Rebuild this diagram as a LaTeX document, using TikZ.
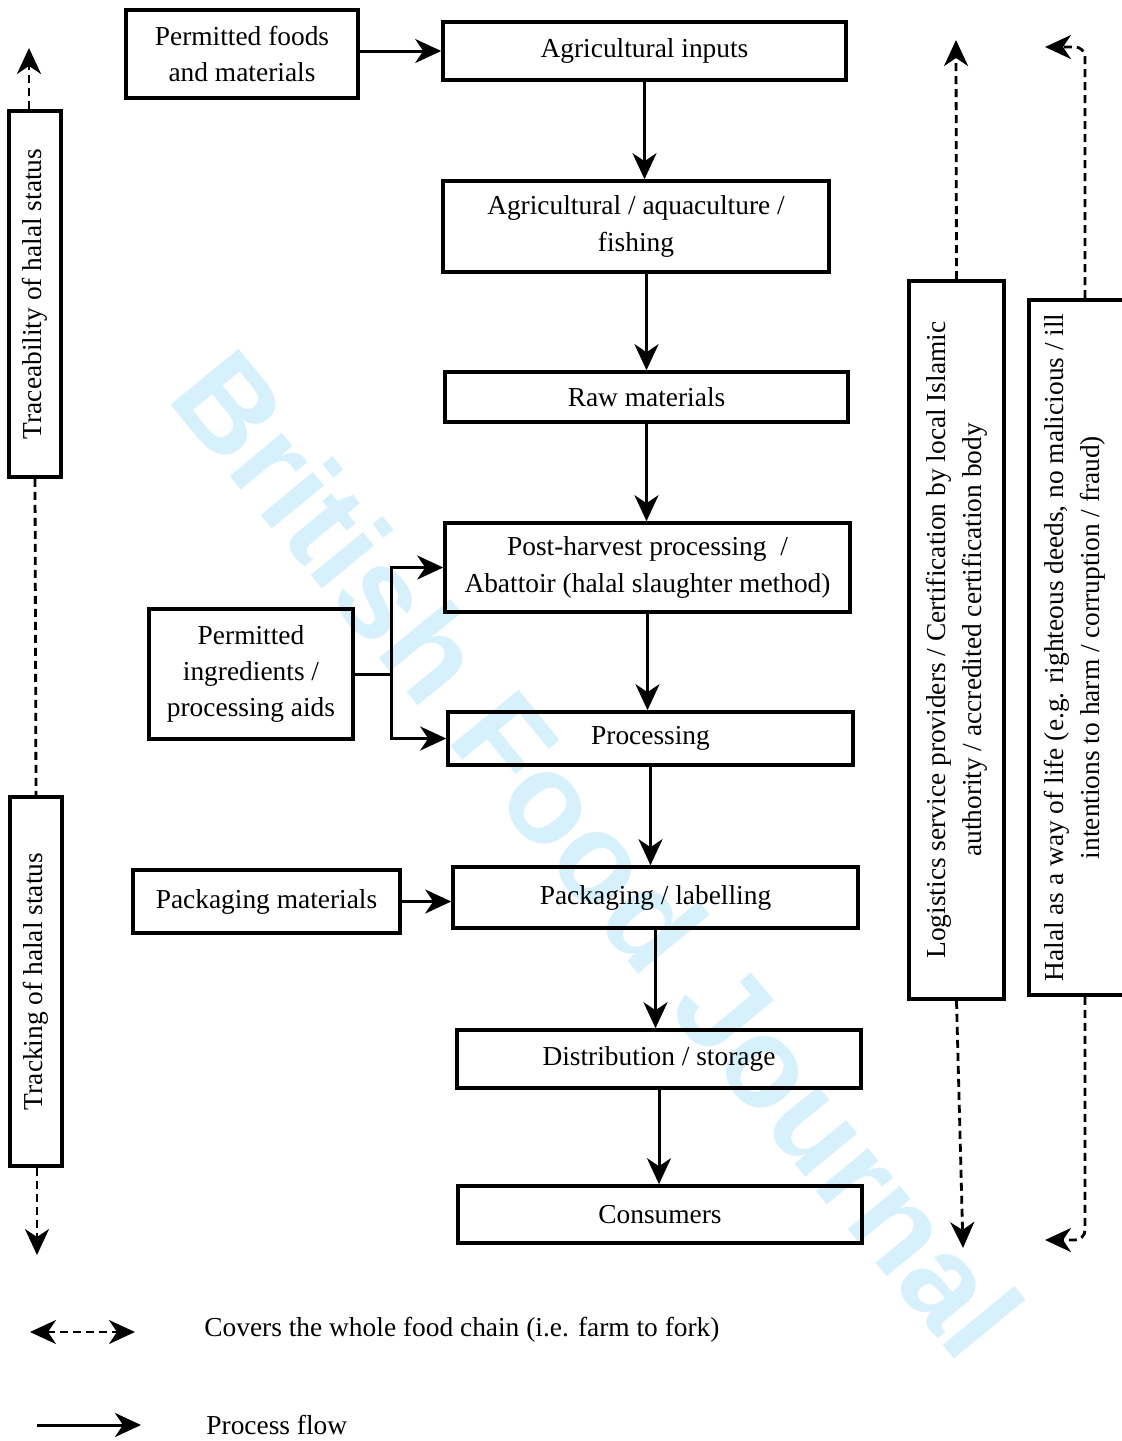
\documentclass[tikz,border=0pt]{standalone}
\usepackage{fontspec}
\setmainfont{Liberation Serif}
\setsansfont{Liberation Sans}
\usetikzlibrary{arrows.meta}
\usetikzlibrary{positioning}
\definecolor{markblue}{RGB}{214,240,252}

\tikzset{
  stage/.style={draw, line width=1.8pt, align=center, inner sep=2pt},
  sidebox/.style={stage, rotate=90},
  flow/.style={line width=1.5pt, -{Stealth[length=13pt,width=12pt,inset=4pt]}},
  cover/.style={line width=1.4pt, dash pattern=on 4pt off 2.5pt, -{Stealth[length=13pt,width=12pt,inset=4pt]}},
  dashline/.style={line width=1.4pt, dash pattern=on 4pt off 2.5pt},
}

\begin{document}
\begin{tikzpicture}[x=0.5pt, y=-0.5pt, every node/.style={font=\fontsize{13.7}{18.2}\selectfont}]
  \useasboundingbox (0,0) rectangle (1121,1441);
  %watermark
  \node[rotate=-50.6, text=markblue, font=\fontsize{64}{64}\selectfont\sffamily\bfseries] (mark) at (598,853) {British Food Journal};
  %main chain
  \node[stage, minimum width=116pt, minimum height=44pt] (foods) at (242,54) {Permitted foods\\and materials};
  \node[stage, minimum width=201.5pt, minimum height=29pt] (inputs) at (644.5,51) {Agricultural inputs};
  \node[stage, minimum width=193pt, minimum height=45.5pt] (agri) at (636,226.5) {Agricultural / aquaculture /\\fishing};
  \node[stage, minimum width=201.5pt, minimum height=25pt] (raw) at (646.5,397) {Raw materials};
  \node[stage, minimum width=202.5pt, minimum height=44.5pt] (post) at (647.5,567.5) {Post-harvest processing~ /\\Abattoir (halal slaughter method)};
  \node[stage, minimum width=202.5pt, minimum height=26.5pt] (proc) at (650.5,738.5) {Processing};
  \node[stage, minimum width=102pt, minimum height=65pt] (ingr) at (251,674) {Permitted\\ingredients /\\processing aids};
  \node[stage, minimum width=202.5pt, minimum height=30.5pt] (pack) at (655.5,897.5) {Packaging / labelling};
  \node[stage, minimum width=133.5pt, minimum height=31.5pt] (packmat) at (266.5,901.5) {Packaging materials};
  \node[stage, minimum width=202pt, minimum height=29pt] (dist) at (659,1059) {Distribution / storage};
  \node[stage, minimum width=202pt, minimum height=28.5pt] (cons) at (660,1214.5) {Consumers};
  %side boxes (rotated: east is the top)
  \node[sidebox, minimum width=183pt, minimum height=26pt] (trace) at (35,294) {Traceability of halal status};
  \node[sidebox, minimum width=184.5pt, minimum height=26pt] (track) at (36,981.5) {Tracking of halal status};
  \node[sidebox, minimum width=359pt, minimum height=47.5pt] (logistics) at (956.5,640) {Logistics service providers / Certification by local Islamic\\authority / accredited certification body};
  \node[sidebox, minimum width=347.5pt, minimum height=56pt] (halalbox) at (1085,647.5) {};
  \node[rotate=90, align=center] (halal) at (1075,647.5) {Halal as a way of life (e.g. righteous deeds, no malicious / ill\\intentions to harm / corruption / fraud)};
  %process flow
  \draw[flow] (inputs.west -| foods.east) -- (inputs.west);
  \draw[flow] (inputs.south) -- (inputs.south |- agri.north);
  \draw[flow] (raw.north |- agri.south) -- (raw.north);
  \draw[flow] (raw.south) -- (raw.south |- post.north);
  \draw[flow] (post.south) -- (post.south |- proc.north);
  \draw[flow] (proc.south) -- (proc.south |- pack.north);
  \draw[flow] (pack.south) -- (pack.south |- dist.north);
  \draw[flow] (dist.south) -- (dist.south |- cons.north);
  \draw[line width=1.5pt] (ingr.east) -- ++(37,0) coordinate (split);
  \draw[flow] (split) |- (post.west);
  \draw[flow] (split) |- (proc.west);
  \draw[flow] (packmat.east) -- (packmat.east -| pack.west);
  %whole chain
  \coordinate (tracetop) at (29,48);
  \coordinate (trackbot) at (37,1255);
  \coordinate (logtop) at (956,40);
  \coordinate (logbot) at (963,1248);
  \coordinate (haltop) at (1045,47);
  \coordinate (halbot) at (1045,1240);
  \draw[cover] (tracetop |- trace.east) -- (tracetop);
  \draw[dashline] (trace.west) -- (track.east);
  \draw[cover] (trackbot |- track.west) -- (trackbot);
  \draw[cover] (logistics.east) -- (logtop);
  \draw[cover] (logistics.west) -- (logbot);
  \draw[cover, rounded corners=5pt] (halalbox.east) |- (haltop);
  \draw[cover, rounded corners=5pt] (halalbox.west) |- (halbot);
  %legend
  \coordinate (covl) at (30,1332);
  \coordinate (covr) at (135,1332);
  \coordinate (flowl) at (37,1425);
  \coordinate (flowr) at (141,1425);
  \draw[cover, {Stealth[length=13pt,width=12pt,inset=4pt]}-{Stealth[length=13pt,width=12pt,inset=4pt]}] (covl) -- (covr);
  \draw[flow] (flowl) -- (flowr);
  \node[anchor=west, inner sep=0pt] (covtxt) at (204,1330) {Covers the whole food chain (i.e. farm to fork)};
  \node[anchor=west, inner sep=0pt] (flowtxt) at (206,1425) {Process flow};
\end{tikzpicture}
\end{document}
